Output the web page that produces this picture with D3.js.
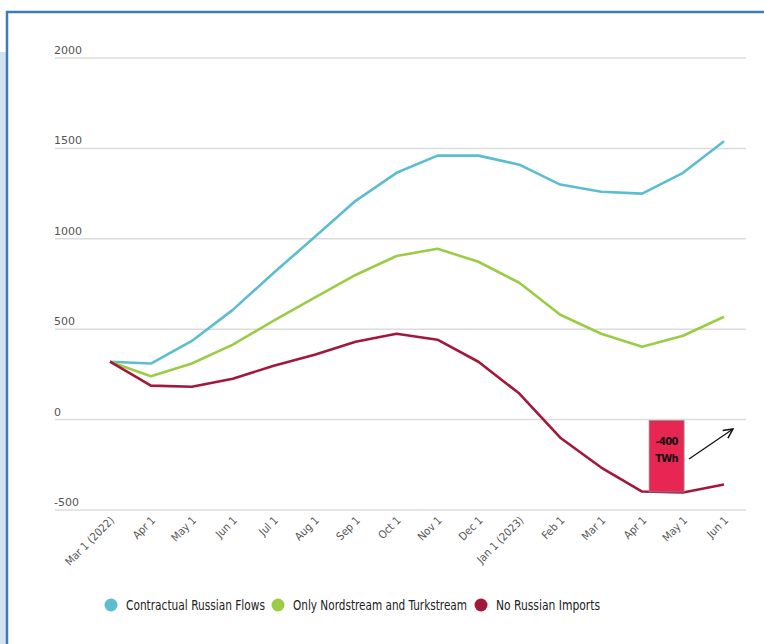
<!DOCTYPE html>
<html lang="en">
<head>
<meta charset="utf-8">
<title>Gas storage scenarios</title>
<script src="https://d3js.org/d3.v7.min.js"></script>
<style>
  body { margin: 0; background: #fff; }
  .grid line { stroke: #dcdcdc; stroke-width: 1.5px; }
  .ylab { font-family: "DejaVu Sans", sans-serif; font-size: 11px; fill: #555; }
  .xlab { font-family: "DejaVu Sans Condensed", "DejaVu Sans", sans-serif; font-stretch: condensed; font-size: 11px; fill: #555; }
  .legend text { font-family: "DejaVu Sans Condensed", "DejaVu Sans", sans-serif; font-stretch: condensed; font-size: 14px; fill: #222; }
  .series { fill: none; stroke-width: 2.6px; stroke-linejoin: round; }
</style>
</head>
<body>
<svg id="chart" width="764" height="644"></svg>
<script>
  const months = ['Mar 1 (2022)', 'Apr 1', 'May 1', 'Jun 1', 'Jul 1', 'Aug 1', 'Sep 1', 'Oct 1',
    'Nov 1', 'Dec 1', 'Jan 1 (2023)', 'Feb 1', 'Mar 1', 'Apr 1', 'May 1', 'Jun 1'];
  const contractual = [320, 310, 435, 607, 812, 1010, 1210, 1365, 1460, 1460, 1410, 1300, 1260, 1250, 1365, 1540];
  const nordTurk = [320, 240, 310, 415, 547, 675, 800, 905, 945, 873, 757, 580, 475, 403, 464, 569];
  const noRussian = [320, 188, 182, 226, 298, 359, 431, 475, 442, 320, 144, -100, -265, -398, -403, -359];
  const yTicks = [-500, 0, 500, 1000, 1500, 2000];
  const seriesNames = ['Contractual Russian Flows', 'Only Nordstream and Turkstream', 'No Russian Imports'];
  const seriesColors = ['#5cbdd0', '#9ccc45', '#a3173a'];
  const gapValue = -400;

  const svg = d3.select('#chart');

  // frame
  svg.append('rect').attr('x', 0).attr('y', 52).attr('width', 6).attr('height', 600).attr('fill', '#d2e3ef');
  svg.append('path').attr('d', 'M7,644 V12 H764').attr('fill', 'none')
    .attr('stroke', '#3f7bb8').attr('stroke-width', 2.5);

  const x = d3.scalePoint().domain(d3.range(months.length)).range([110, 724]);
  const y = d3.scaleLinear().domain([-500, 2000]).range([510, 58]);

  const grid = svg.append('g').attr('class', 'grid');
  grid.selectAll('line').data(yTicks).join('line')
    .attr('x1', 55).attr('x2', 746)
    .attr('y1', d => y(d)).attr('y2', d => y(d));
  svg.selectAll('.ylab').data(yTicks).join('text')
    .attr('class', 'ylab')
    .attr('x', 54).attr('y', d => y(d) - 4)
    .text(d => d);

  svg.selectAll('.xlab').data(months).join('text')
    .attr('class', 'xlab')
    .attr('text-anchor', 'end')
    .attr('transform', (d, i) => `translate(${x(i) + 5},${y(-500) + 11}) rotate(-45)`)
    .text(d => d);

  const line = d3.line().x((d, i) => x(i)).y(d => y(d));
  [contractual, nordTurk, noRussian].forEach((s, k) => {
    svg.append('path').attr('class', 'series').attr('stroke', seriesColors[k]).attr('d', line(s));
  });

  // annotation bar
  const bx0 = x(13) + 7, bx1 = x(14) + 1;
  svg.append('rect')
    .attr('x', bx0).attr('y', y(0) + 1)
    .attr('width', bx1 - bx0).attr('height', y(gapValue) - y(0) - 1)
    .attr('fill', '#e82652').attr('stroke', '#8a8a8a').attr('stroke-width', 0.8);
  const ann = svg.append('g')
    .attr('font-family', '"DejaVu Sans Condensed", sans-serif').attr('font-stretch', 'condensed')
    .attr('font-weight', 'bold').attr('font-size', 11).attr('letter-spacing', -0.6)
    .attr('text-anchor', 'middle').attr('fill', '#111');
  ann.append('text').attr('x', (bx0 + bx1) / 2).attr('y', y(gapValue / 2) - 11).text(gapValue);
  ann.append('text').attr('x', (bx0 + bx1) / 2).attr('y', y(gapValue / 2) + 6).text('TWh');

  // arrow
  svg.append('defs').append('marker')
    .attr('id', 'ah').attr('viewBox', '0 0 10 10').attr('refX', 9).attr('refY', 5)
    .attr('markerWidth', 9).attr('markerHeight', 9).attr('orient', 'auto')
    .append('path').attr('d', 'M1,1 L9,5 L1,9').attr('fill', 'none').attr('stroke', '#111').attr('stroke-width', 1.3);
  svg.append('line')
    .attr('x1', 689).attr('y1', 459).attr('x2', 733).attr('y2', 429)
    .attr('stroke', '#111').attr('stroke-width', 1.3).attr('marker-end', 'url(#ah)');

  // legend
  const legX = [111, 278, 481];
  const legW = [139, 174, 104];
  const leg = svg.append('g').attr('class', 'legend');
  seriesNames.forEach((n, k) => {
    leg.append('circle').attr('cx', legX[k]).attr('cy', 605).attr('r', 6.5).attr('fill', seriesColors[k]);
    leg.append('text').attr('x', legX[k] + 15).attr('y', 610)
      .attr('textLength', legW[k]).attr('lengthAdjust', 'spacingAndGlyphs').text(n);
  });
</script>
</body>
</html>
